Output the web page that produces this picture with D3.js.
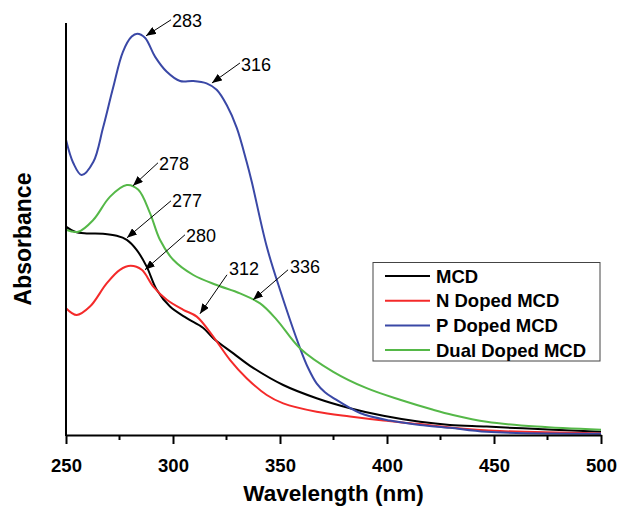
<!DOCTYPE html>
<html>
<head>
<meta charset="utf-8">
<script src="https://cdn.jsdelivr.net/npm/d3@7"></script>
<style>
  body { margin: 0; background: #fff; }
  svg { font-family: "Liberation Sans", Arial, sans-serif; }
</style>
</head>
<body>
<div id="plotDiv"></div>
<script>
// --- Data (wavelength in nm, absorbance in arbitrary units) ---
const seriesNames = ["MCD", "N Doped MCD", "P Doped MCD", "Dual Doped MCD"];
const seriesColors = ["#000000", "#f42a2a", "#3a48a6", "#55b848"];

const mcdWl = [250, 254.2, 259.7, 267.3, 273.7, 278.4, 283, 287.7, 292.4, 298.6, 306.4, 314, 318.8, 328.2, 336, 351.5, 367.1, 382.7, 398.3, 415.4, 429.4, 446.6, 477.6, 500];
const mcdAbs = [0.521, 0.508, 0.504, 0.503, 0.498, 0.488, 0.463, 0.421, 0.363, 0.321, 0.292, 0.268, 0.242, 0.204, 0.173, 0.125, 0.092, 0.067, 0.048, 0.033, 0.025, 0.021, 0.013, 0.008];

const nWl = [250, 255, 261.2, 269, 275.2, 280.2, 285.4, 290.8, 297.1, 304.8, 311.1, 318.8, 326.6, 334.4, 343.8, 351.5, 367.1, 382.7, 398.3, 413.9, 429.4, 452.8, 500];
const nAbs = [0.317, 0.300, 0.321, 0.379, 0.413, 0.423, 0.413, 0.371, 0.338, 0.313, 0.296, 0.246, 0.188, 0.142, 0.100, 0.079, 0.058, 0.046, 0.036, 0.028, 0.019, 0.010, 0.004];

const pWl = [250, 253.4, 257.3, 262.8, 267.3, 272, 276.6, 280.7, 283.3, 286.9, 291.6, 297.1, 303.3, 309.5, 315.7, 320.4, 325.1, 329.8, 334.4, 336.8, 343.8, 350, 359.3, 363.1, 367.1, 371, 374.8, 387.4, 401.4, 415.4, 429.4, 446.6, 500];
const pAbs = [0.738, 0.680, 0.650, 0.683, 0.768, 0.868, 0.958, 0.996, 1.003, 0.993, 0.946, 0.908, 0.885, 0.885, 0.879, 0.863, 0.825, 0.768, 0.683, 0.633, 0.471, 0.363, 0.218, 0.168, 0.129, 0.107, 0.093, 0.055, 0.036, 0.025, 0.018, 0.008, 0.003];

const dualWl = [250, 255.7, 262.8, 270.6, 278.4, 283.8, 289.3, 293.9, 300.1, 309.5, 320.4, 331.3, 340.7, 348.5, 359.3, 374.9, 390.5, 406.1, 421.6, 430.8, 446.6, 469.9, 500];
const dualAbs = [0.513, 0.508, 0.538, 0.596, 0.625, 0.613, 0.554, 0.488, 0.438, 0.400, 0.375, 0.354, 0.329, 0.288, 0.217, 0.158, 0.117, 0.088, 0.063, 0.050, 0.033, 0.021, 0.013];

const xTicks = [250, 300, 350, 400, 450, 500];
const xMinorTicks = [275, 325, 375, 425, 475];

// peak labels: text, wavelength / absorbance of arrow tip, then arrow tail and text offsets in px
const peakLabels = ["283", "316", "278", "277", "280", "312", "336"];
const peakWl = [287.4, 318.2, 281.3, 278.5, 286.9, 312.6, 337.4];
const peakAbs = [0.998, 0.880, 0.623, 0.493, 0.413, 0.303, 0.338];
const tailDx = [25, 28, 25, 44, 40, 27, 35];
const tailDy = [-16, -20, -23, -37, -35, -39, -30];
const textDx = [1, 1, 1, 1, 1, 2, 2];
const textDy = [7, 8, 7, 6, 7, 0, 3];

const series = [
  {wl: mcdWl, abs: mcdAbs},
  {wl: nWl, abs: nAbs},
  {wl: pWl, abs: pAbs},
  {wl: dualWl, abs: dualAbs}
].map((s, i) => ({
  name: seriesNames[i],
  color: seriesColors[i],
  points: s.wl.map((w, j) => ({wl: w, abs: s.abs[j]}))
}));

// --- SVG Setup ---
const W = 618, H = 506;
const svg = d3.select("#plotDiv").append("svg")
  .attr("width", W).attr("height", H);

const x = d3.scaleLinear().domain([250, 500]).range([66, 601]);
const y = d3.scaleLinear().domain([0, 1.03]).range([435, 23]);

// --- Curves ---
const line = d3.line()
  .x(d => x(d.wl))
  .y(d => y(d.abs))
  .curve(d3.curveCatmullRom.alpha(0.5));

svg.append("g").selectAll("path")
  .data(series)
  .join("path")
  .attr("d", d => line(d.points))
  .attr("fill", "none")
  .attr("stroke", d => d.color)
  .attr("stroke-width", 2);

// --- Axes ---
const xAxis = svg.append("g")
  .attr("transform", `translate(0,${y(0)})`)
  .call(d3.axisBottom(x).tickValues(xTicks).tickSize(9).tickSizeOuter(0).tickFormat(d3.format("d")));
xAxis.select(".domain").attr("stroke-width", 2);
xAxis.selectAll(".tick line").attr("stroke-width", 2);
xAxis.selectAll(".tick text")
  .attr("font-size", 18.5).attr("font-weight", "bold")
  .attr("font-family", "Liberation Sans, Arial, sans-serif")
  .attr("dy", "1.35em");

xAxis.selectAll(".minor")
  .data(xMinorTicks)
  .join("line")
  .attr("class", "minor")
  .attr("x1", d => x(d)).attr("x2", d => x(d))
  .attr("y1", 0).attr("y2", 5)
  .attr("stroke", "#000").attr("stroke-width", 2);

svg.append("line")
  .attr("x1", x(250)).attr("x2", x(250))
  .attr("y1", y(0) + 1).attr("y2", y(1.03))
  .attr("stroke", "#000").attr("stroke-width", 2);

svg.append("text")
  .attr("x", (x(250) + x(500)) / 2).attr("y", 501)
  .attr("text-anchor", "middle")
  .attr("font-size", 22.5).attr("font-weight", "bold")
  .text("Wavelength (nm)");

svg.append("text")
  .attr("transform", `translate(31,239) rotate(-90)`)
  .attr("text-anchor", "middle")
  .attr("font-size", 23).attr("font-weight", "bold")
  .text("Absorbance");

// --- Peak annotations ---
svg.append("defs").append("marker")
  .attr("id", "arrow")
  .attr("markerUnits", "userSpaceOnUse")
  .attr("viewBox", "0 0 10 8")
  .attr("refX", 10).attr("refY", 4)
  .attr("markerWidth", 10).attr("markerHeight", 8)
  .attr("orient", "auto")
  .append("path")
  .attr("d", "M0,0 L10,4 L0,8 Z")
  .attr("fill", "#000");

const notes = peakLabels.map((t, i) => {
  const tx = x(peakWl[i]), ty = y(peakAbs[i]);
  return {text: t, tipX: tx, tipY: ty, tailX: tx + tailDx[i], tailY: ty + tailDy[i], i};
});

const noteG = svg.append("g");
noteG.selectAll("line")
  .data(notes)
  .join("line")
  .attr("x1", d => d.tailX).attr("y1", d => d.tailY)
  .attr("x2", d => d.tipX).attr("y2", d => d.tipY)
  .attr("stroke", "#000").attr("stroke-width", 1)
  .attr("marker-end", "url(#arrow)");

noteG.selectAll("text")
  .data(notes)
  .join("text")
  .attr("x", d => d.tailX + textDx[d.i])
  .attr("y", d => d.tailY + textDy[d.i])
  .attr("font-size", 18)
  .text(d => d.text);

// --- Legend ---
const legend = svg.append("g");
legend.append("rect")
  .attr("x", 373).attr("y", 262.5)
  .attr("width", 227).attr("height", 98.5)
  .attr("fill", "#fff").attr("stroke", "#444").attr("stroke-width", 1);

const row = legend.selectAll("g.row")
  .data(series)
  .join("g")
  .attr("class", "row")
  .attr("transform", (d, i) => `translate(0,${276 + i * 24.7})`);

row.append("line")
  .attr("x1", 385).attr("x2", 430)
  .attr("stroke", d => d.color).attr("stroke-width", 2);

row.append("text")
  .attr("x", 436).attr("dy", "0.36em")
  .attr("font-size", 18.5).attr("font-weight", "bold")
  .text(d => d.name);
</script>
</body>
</html>
